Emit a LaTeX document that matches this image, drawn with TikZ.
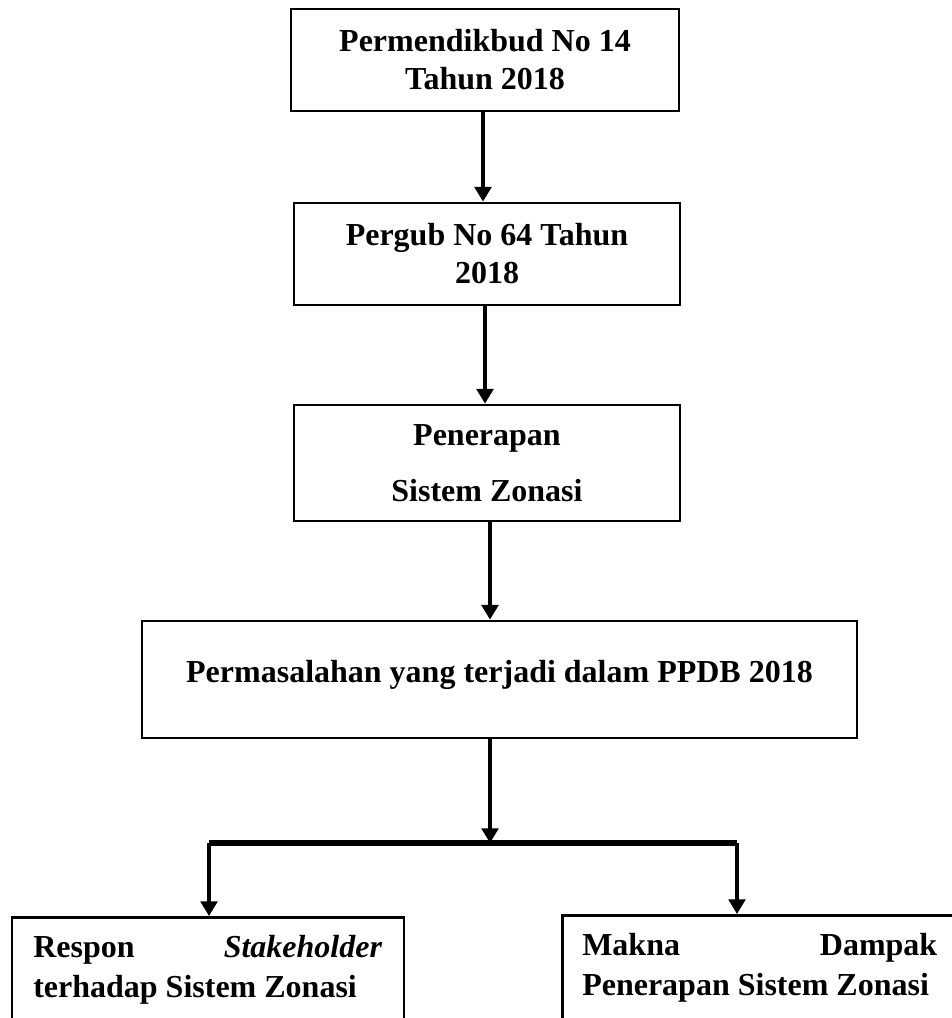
\documentclass[tikz,border=0pt]{standalone}
\usepackage{fontspec}
\setmainfont{Liberation Serif}
\usetikzlibrary{arrows.meta,calc}
\tikzset{
  box/.style={draw, line width=2.1pt, rectangle, inner sep=0pt, align=center,
    font=\bfseries\fontsize{24pt}{28.5pt}\selectfont},
  arr/.style={line width=2.5pt, -{Triangle[length=11pt,width=12.5pt]}},
  bar/.style={line width=3.8pt},
  btext/.style={inner sep=0pt, anchor=base west, align=left,
    font=\bfseries\fontsize{24pt}{30pt}\selectfont}
}
\begin{document}
\begin{tikzpicture}[x=0.75pt,y=-0.75pt]
\path[use as bounding box, clip] (0,0) rectangle (952,1018);
\fill[white] (0,0) rectangle (952,1018);
\node[box, minimum width=291pt, minimum height=76.5pt] (b1) at (485,60)
  {Permendikbud No 14\\Tahun 2018};
\node[box, minimum width=289.5pt, minimum height=76.5pt] (b2) at (487,254)
  {Pergub No 64 Tahun\\2018};
\node[box, minimum width=289.5pt, minimum height=87pt,
  font=\bfseries\fontsize{24pt}{42pt}\selectfont] (b3) at (487,463)
  {Penerapan\\Sistem Zonasi};
\node[box, minimum width=536.25pt, minimum height=87.75pt,
  text height=16.5pt, text depth=12.75pt] (b4) at (499.5,679.5)
  {Permasalahan yang terjadi dalam PPDB 2018};
\node[box, minimum width=294pt, minimum height=112.5pt, anchor=north] (lb) at (208,916) {};
\node[box, minimum width=315pt, minimum height=112.5pt, anchor=north west] (rb) at (561,914) {};
\node[btext] (lt) at (33,997)
  {\makebox[261.75pt][s]{Respon\hfill\textit{Stakeholder}}\\terhadap Sistem Zonasi};
\node[btext] (rt) at (582,995)
  {\makebox[266.25pt][s]{Makna\hfill Dampak}\\Penerapan Sistem Zonasi};
\coordinate (jn) at (490,843);
\coordinate (bl) at (209,843);
\coordinate (br) at (737,843);
\draw[arr] ([xshift=-1.5pt]b1.south) -- ([xshift=-1.5pt]b1.south |- b2.north);
\draw[arr] ([xshift=-1.5pt]b2.south) -- ([xshift=-1.5pt]b2.south |- b3.north);
\draw[arr] ([xshift=2.25pt]b3.south) -- ([xshift=2.25pt]b3.south |- b4.north);
\draw[arr] (jn |- b4.south) -- (jn);
\draw[bar] (bl) -- (br);
\draw[arr] (bl) -- (bl |- lb.north);
\draw[arr] (br) -- (br |- rb.north);
\end{tikzpicture}
\end{document}
